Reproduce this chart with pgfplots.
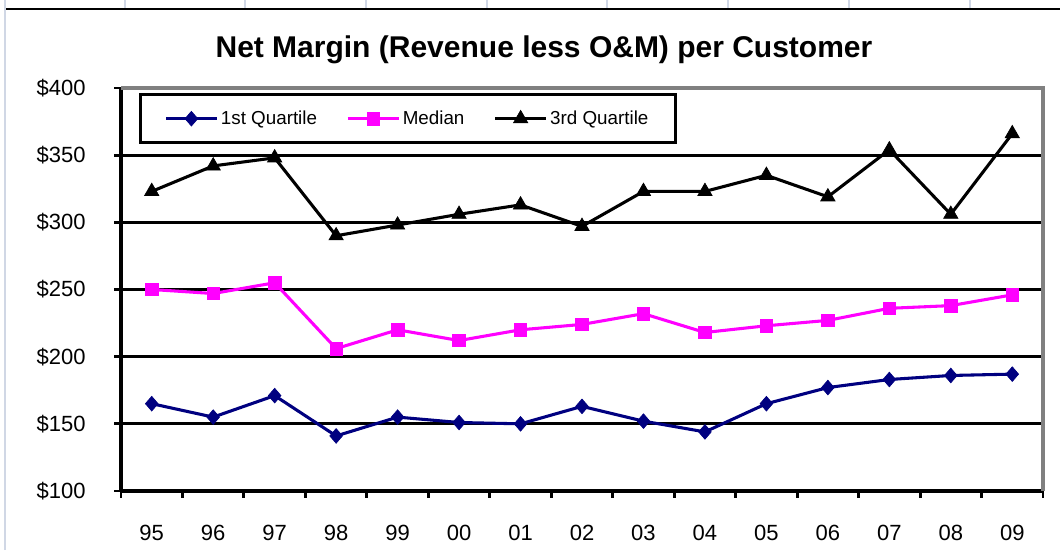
\documentclass[border=0pt]{standalone}
\usepackage{pgfplots}
\pgfplotsset{compat=1.18}
\usepackage{fontspec}
\setmainfont{Liberation Sans}
\definecolor{qone}{RGB}{0,0,128}
\definecolor{qmed}{RGB}{255,0,255}
\definecolor{sheet}{RGB}{208,215,229}
\definecolor{bord}{RGB}{128,128,128}
\begin{document}
\begin{tikzpicture}
\useasboundingbox (0pt,0pt) rectangle (795pt,412.5pt);
\begin{scope}[x=0.75pt,y=0.75pt]
\draw[sheet,line width=1.2pt] (5,0) -- (5,550);
\foreach \xx in {125,245,366,487,607,728,849,970} \draw[sheet,line width=1.2pt] (\xx,542) -- (\xx,550);
\draw[black,line width=2pt] (6,541) -- (1060,541);
\node[font=\fontsize{22.5}{26}\selectfont\bfseries] at (544,500) {Net Margin (Revenue less O\&M) per Customer};
\end{scope}
\begin{axis}[
  at={(90.75pt,44.25pt)}, anchor=south west,
  scale only axis, width=691.5pt, height=302.25pt,
  xmin=-0.5, xmax=14.5, ymin=100, ymax=400,
  axis lines=left, axis line style={-, line width=2.3pt, black},
  xtick={0,...,14},
  xticklabels={95,96,97,98,99,00,01,02,03,04,05,06,07,08,09},
  minor xtick={-0.5,0.5,...,14.5},
  ytick={100,150,...,400},
  yticklabel={\$\pgfmathprintnumber{\tick}},
  tick align=outside,
  x tick style={draw=none},
  minor x tick style={draw=black, line width=2.2pt},
  minor tick length=5pt,
  y tick style={black, line width=2.2pt},
  major tick length=5pt,
  ymajorgrids, grid style={black, line width=2.2pt},
  ticklabel style={font=\fontsize{16.5}{19}\selectfont},
  yticklabel style={xshift=-18pt},
  xticklabel style={yshift=-17pt},
  /pgf/number format/assume math mode=true,
  legend columns=3,
  legend style={at={(0,1)}, anchor=north west, xshift=13.5pt, yshift=-4pt,
    draw=black, line width=2.3pt, font=\fontsize{14.1}{16}\selectfont,
    inner xsep=18pt, inner ysep=10pt,
    /tikz/every even column/.append style={column sep=20pt}},
  legend image code/.code={\draw[mark repeat=2,mark phase=2] plot coordinates {(0pt,0pt) (19pt,0pt) (38pt,0pt)};},
  clip=false,
]
\addplot[qone, line width=2.3pt, mark=diamond*, mark size=5.5pt, mark options={solid, fill=qone, line width=0.5pt, xscale=1.15}]
  coordinates {(0,165) (1,155) (2,171) (3,141) (4,155) (5,151) (6,150) (7,163) (8,152) (9,144) (10,165) (11,177) (12,183) (13,186) (14,187)};
\addlegendentry{1st Quartile}
\addplot[qmed, line width=2.3pt, mark=square*, mark size=4.7pt, mark options={solid, fill=qmed, line width=0.5pt}]
  coordinates {(0,250) (1,247) (2,255) (3,206) (4,220) (5,212) (6,220) (7,224) (8,232) (9,218) (10,223) (11,227) (12,236) (13,238) (14,246)};
\addlegendentry{Median}
\addplot[black, line width=2.3pt, mark=triangle*, mark size=6.2pt, mark options={solid, fill=black, line width=0.5pt}]
  coordinates {(0,323) (1,342) (2,348) (3,290) (4,298) (5,306) (6,313) (7,297) (8,323) (9,323) (10,335) (11,319) (12,354) (13,306) (14,366)};
\addlegendentry{3rd Quartile}
\draw[bord, line width=2.4pt] (rel axis cs:0,1) -- (rel axis cs:1,1) -- (rel axis cs:1,0);
\end{axis}
\end{tikzpicture}
\end{document}
